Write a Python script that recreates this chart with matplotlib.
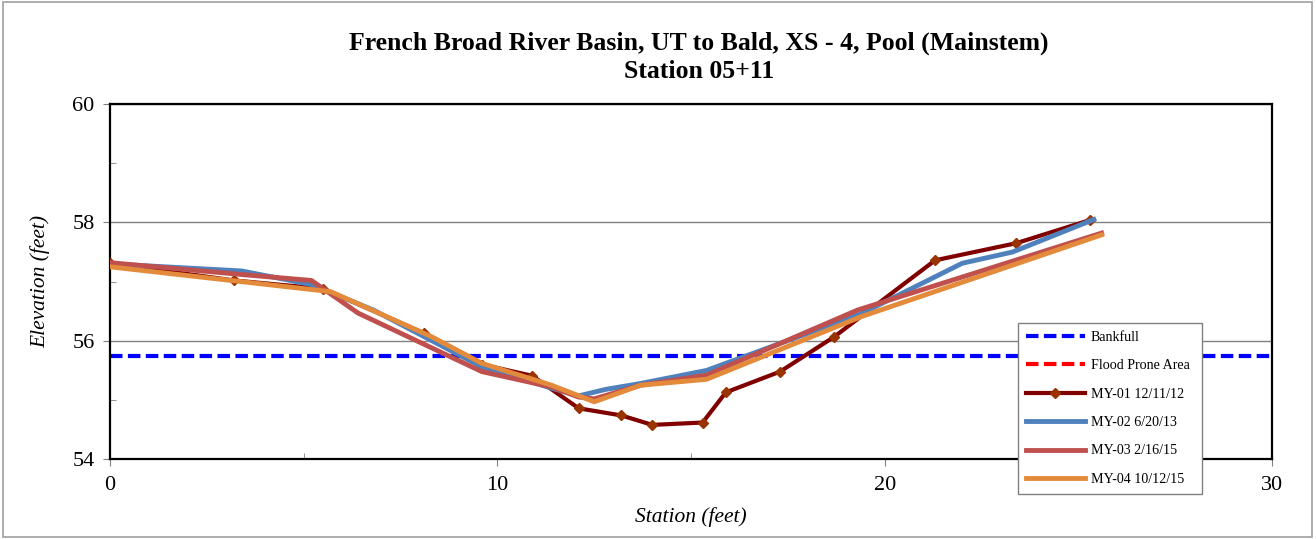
import matplotlib
matplotlib.use('Agg')
import matplotlib.pyplot as plt
from matplotlib.patches import Rectangle
from matplotlib.ticker import MultipleLocator

# Survey data
bankfull_elev = 55.74

station_01 = [0, 3.2, 5.5, 8.1, 9.6, 10.9, 12.1, 13.2, 14.0, 15.3, 15.9, 17.3, 18.7, 21.3, 23.4, 25.3]
elev_01 = [57.31, 57.02, 56.88, 56.13, 55.60, 55.41, 54.86, 54.74, 54.58, 54.62, 55.13, 55.48, 56.07, 57.36, 57.65, 58.04]

station_02 = [0, 3.4, 5.2, 6.8, 9.6, 11.4, 12.1, 12.8, 13.7, 15.4, 19.4, 22.0, 23.3, 25.4]
elev_02 = [57.30, 57.18, 56.95, 56.52, 55.56, 55.20, 55.07, 55.18, 55.28, 55.50, 56.46, 57.31, 57.50, 58.05]

station_03 = [0, 3.4, 5.2, 6.4, 9.6, 11.4, 12.1, 12.5, 13.7, 15.4, 19.3, 25.6]
elev_03 = [57.32, 57.12, 57.02, 56.47, 55.48, 55.22, 55.05, 55.02, 55.25, 55.42, 56.52, 57.82]

station_04 = [0, 5.7, 8.3, 9.6, 11.4, 12.5, 13.7, 15.4, 19.4, 25.6]
elev_04 = [57.25, 56.83, 56.07, 55.62, 55.25, 54.97, 55.25, 55.35, 56.41, 57.79]

plt.rcParams['font.family'] = ['Liberation Serif', 'DejaVu Serif']

fig = plt.figure(figsize=(13.16, 5.39), dpi=100)
ax = fig.add_axes([0.0836, 0.148, 0.883, 0.659])

# outer chart border
fig.patches.append(Rectangle((0.002, 0.004), 0.995, 0.992, transform=fig.transFigure,
                             fill=False, edgecolor='#a0a0a0', linewidth=1.2))

ax.axhline(bankfull_elev, color='#0000ff', linestyle=(0, (3, 1.3)), linewidth=3, label='Bankfull', zorder=2)
ax.plot([], [], color='#ff0000', linestyle=(0, (3, 1.3)), linewidth=3, label='Flood Prone Area')
ax.plot(station_01, elev_01, color='#800000', linewidth=3, marker='D', markersize=5,
        markerfacecolor='#993300', markeredgecolor='#993300', label='MY-01 12/11/12', zorder=3)
ax.plot(station_02, elev_02, color='#4f81bd', linewidth=3.5, label='MY-02 6/20/13', zorder=4)
ax.plot(station_03, elev_03, color='#c0504d', linewidth=3.5, label='MY-03 2/16/15', zorder=5)
ax.plot(station_04, elev_04, color='#e38b3b', linewidth=3.5, label='MY-04 10/12/15', zorder=6)

ax.set_xlim(0, 30)
ax.set_ylim(54, 60)
ax.xaxis.set_major_locator(MultipleLocator(10))
ax.xaxis.set_minor_locator(MultipleLocator(5))
ax.yaxis.set_major_locator(MultipleLocator(2))
ax.yaxis.set_minor_locator(MultipleLocator(1))
ax.tick_params(which='major', direction='out', length=5, color='#808080', labelsize=16)
ax.tick_params(axis='x', which='major', pad=7)
ax.tick_params(axis='y', which='major', pad=6)
ax.tick_params(which='minor', direction='in', length=4, color='#808080')
ax.grid(True, axis='y', which='major', color='#808080', linewidth=1)
ax.set_axisbelow(True)
for s in ax.spines.values():
    s.set_linewidth(1.6)
    s.set_color('black')

ax.set_xlabel('Station (feet)', fontsize=15.5, style='italic', labelpad=9)
ax.set_ylabel('Elevation (feet)', fontsize=15.5, style='italic', labelpad=16)
fig.text(0.531, 0.894, 'French Broad River Basin, UT to Bald, XS - 4, Pool (Mainstem)\nStation 05+11',
         ha='center', va='center', fontsize=18.5, fontweight='bold', linespacing=1.25)

leg = ax.legend(loc='upper left', bbox_to_anchor=(0.7736, 0.0909, 0.1398, 0.3098),
                bbox_transform=fig.transFigure, mode='expand', fontsize=10.1,
                handlelength=4.2, labelspacing=1.1, handletextpad=0.45, borderaxespad=0,
                borderpad=0.55, fancybox=False, framealpha=1, edgecolor='#808080')
leg.get_frame().set_linewidth(1)
leg.set_zorder(10)

fig.savefig('out.png', dpi=100)
